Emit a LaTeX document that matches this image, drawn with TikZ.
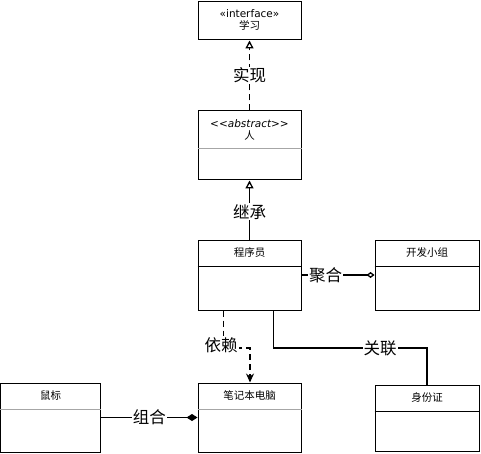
\documentclass[tikz,border=0pt]{standalone}
\usepackage{fontspec}
\setmainfont{DejaVu Sans}
\newfontfamily\cjk{Noto Sans CJK SC}
\usetikzlibrary{arrows.meta,calc}
\begin{document}
\begin{tikzpicture}[x=1pt,y=-1pt,
  cls/.style={draw, line width=1pt, minimum width=103pt, inner sep=0pt, fill=white},
  divline/.style={draw=gray!70, line width=1pt},
  txt/.style={font=\fontsize{10.5}{12.5}\selectfont, align=center, inner sep=0pt},
  lbl/.style={font=\cjk\fontsize{16.5}{18}\selectfont, fill=white, inner sep=1pt},
  conn/.style={line width=1.3pt},
  dsh/.style={conn, dash pattern=on 6pt off 4pt}]
\useasboundingbox (0,0) rectangle (481,454);
% boxes
\node[cls, minimum height=38pt] (iface) at (249.5,21) {};
\node[txt] (ifacet) at (249.5,20) {«interface»\\[-1pt]{\cjk 学习}};
\node[cls, minimum height=69pt] (ren) at (249.5,145.5) {};
\draw[divline] (ren.west |- 0,149) -- (ren.east |- 0,149);
\node[txt] (rent) at (249.5,130) {\itshape <{}<abstract>{}>\\[-1pt]{\cjk 人}};
\node[cls, minimum height=70pt] (prog) at (249.5,275) {};
\draw[divline, draw=black] (prog.west |- 0,266) -- (prog.east |- 0,266);
\node[txt] (progt) at (249.5,253) {\cjk 程序员};
\node[cls, minimum height=70pt, minimum width=104pt] (team) at (427,275) {};
\draw[divline, draw=black] (team.west |- 0,266) -- (team.east |- 0,266);
\node[txt] (teamt) at (427,253) {\cjk 开发小组};
\node[cls, minimum height=69pt] (laptop) at (249.5,417.5) {};
\draw[divline] (laptop.west |- 0,409) -- (laptop.east |- 0,409);
\node[txt] (laptopt) at (249.5,396) {\cjk 笔记本电脑};
\node[cls, minimum height=69pt, minimum width=100pt] (mouse) at (50.5,417.5) {};
\draw[divline] (mouse.west |- 0,409) -- (mouse.east |- 0,409);
\node[txt] (mouset) at (50.5,396) {\cjk 鼠标};
\node[cls, minimum height=66pt, minimum width=104pt] (idc) at (427,418) {};
\draw[divline, draw=black] (idc.west |- 0,411) -- (idc.east |- 0,411);
\node[txt] (idct) at (427,398) {\cjk 身份证};
% connectors
\draw[dsh, -{Triangle[open, length=8pt, width=8pt]}] (ren.north) -- (iface.south)
  node[lbl, pos=0.5] {实现};
\draw[conn, -{Triangle[open, length=8pt, width=8pt]}] (prog.north) -- (ren.south)
  node[lbl, pos=0.47] {继承};
\draw[conn, -{Diamond[open, length=8pt, width=6pt]}] (prog.east) -- (team.east -| team.west)
  node[lbl, pos=0.33] {聚合};
\draw[conn, -{Diamond[length=11pt, width=7pt]}] (mouse.east) -- (mouse.east -| laptop.west)
  node[lbl, pos=0.5] {组合};
\coordinate (d1) at ($(prog.south)+(-26,0)$);
\coordinate (d2) at ($(laptop.north)+(0.5,0)$);
\draw[dsh, -{Stealth[length=9pt, width=8pt]}] (d1) -- (d1 |- 0,348) -| (d2);
\node[lbl] (dl) at (221,345) {依赖};
\coordinate (a1) at ($(prog.south)+(24,0)$);
\draw[conn] (a1) -- (a1 |- 0,348) -| (idc.north);
\node[lbl] (al) at (380,348) {关联};
\end{tikzpicture}
\end{document}
